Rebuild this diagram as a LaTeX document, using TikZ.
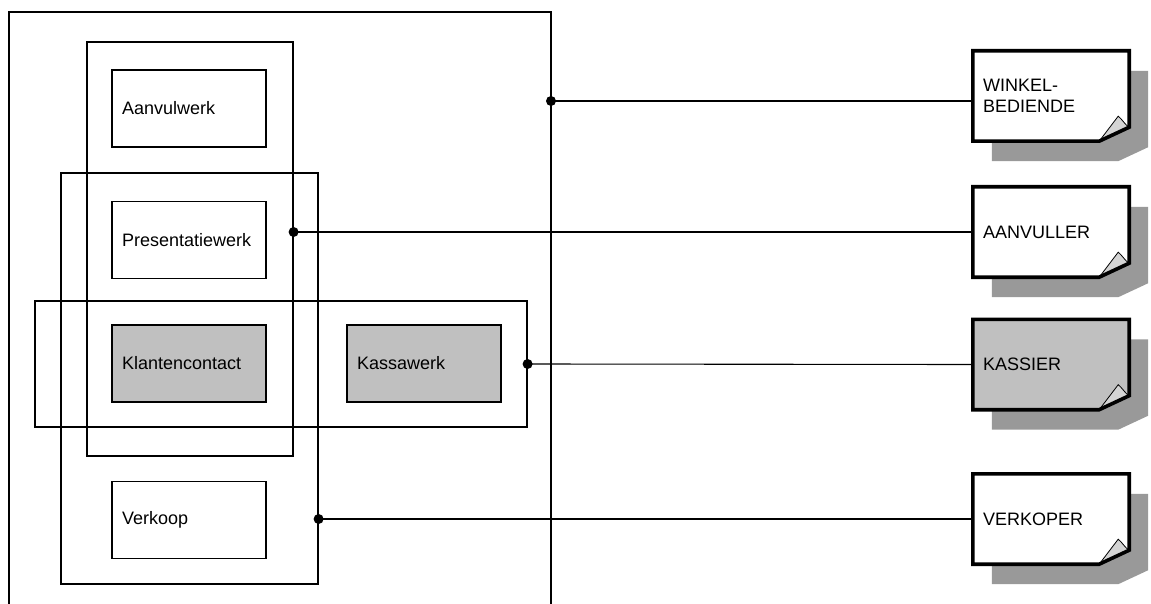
\documentclass[tikz,border=0pt]{standalone}
\usepackage{fontspec}
\setmainfont{Liberation Sans}
\usepackage{xcolor}
\definecolor{cLine}{HTML}{000000}
\definecolor{cTask}{HTML}{C0C0C0}
\definecolor{cShadow}{HTML}{999999}
\definecolor{cFold}{HTML}{D4D4D4}
\usetikzlibrary{calc,backgrounds}
\tikzset{
  node-group/.style={draw=cLine,line width=1.2pt,inner sep=0pt},
  node-task/.style={draw=cLine,line width=1.2pt,fill=white,
    minimum width=154pt,minimum height=77pt,text width=134pt,
    inner xsep=10pt,inner ysep=0pt,align=left},
  node-task-shared/.style={fill=cTask},
  node-doc/.style={minimum width=156pt,minimum height=90pt,text width=136pt,
    inner xsep=10pt,inner ysep=0pt,align=left},
  doc-border/.style={draw=cLine,line width=3.6pt,line join=miter},
  link/.style={draw=cLine,line width=1.1pt},
}
% document outline with folded corner, drawn round a named node
\newcommand{\docoutline}[1]{(#1.north west) -- (#1.north east)
  -- ($(#1.south east)+(0,14)$) -- ($(#1.south east)+(-30,0)$)
  -- (#1.south west) -- cycle}
\newcommand{\docbody}[2]{%
  \begin{scope}[on background layer]
    \fill[cShadow,transform canvas={shift={(19pt,-20pt)}}] \docoutline{#1};
    \fill[#2] \docoutline{#1};
    \filldraw[fill=cFold,draw=cLine,line width=0.8pt]
      ($(#1.south east)+(-30,0)$) -- ($(#1.south east)+(-11,25)$)
      .. controls ($(#1.south east)+(-7,22)$) and ($(#1.south east)+(-4,16)$)
      .. ($(#1.south east)+(0,14)$) -- cycle;
    \path[doc-border] \docoutline{#1};
  \end{scope}}

\begin{document}
\begin{tikzpicture}[x=1pt,y=1pt,font=\fontsize{18pt}{21pt}\selectfont]
  \useasboundingbox (0,0) rectangle (1151,-604);

  % outer frame (open at the bottom)
  \draw[node-group] (9,-604) -- (9,-12) -- (551,-12) -- (551,-604);
  \coordinate (pWinkel) at (551,-101);

  % groups
  \node[node-group,minimum width=206pt,minimum height=414pt] (gA) at (190,-249) {};
  \node[node-group,minimum width=257pt,minimum height=411pt] (gP) at (189.5,-378.5) {};
  \node[node-group,minimum width=492pt,minimum height=126pt] (gK) at (281,-364) {};

  % tasks
  \node[node-task] (tAanvul) at (189,-108.5) {Aanvulwerk};
  \node[node-task] (tPresent) at (189,-240) {Presentatiewerk};
  \node[node-task,node-task-shared] (tKlant) at (189,-363.5) {Klantencontact};
  \node[node-task,node-task-shared] (tKassa) at (424,-363.5) {Kassawerk};
  \node[node-task] (tVerkoop) at (189,-520) {Verkoop};

  % roles
  \node[node-doc] (dWinkel) at (1051,-96) {WINKEL-\\BEDIENDE};
  \node[node-doc] (dAanv) at (1051,-232) {AANVULLER};
  \node[node-doc] (dKass) at (1051,-364.5) {KASSIER};
  \node[node-doc] (dVerk) at (1051,-519) {VERKOPER};
  \docbody{dWinkel}{white}
  \docbody{dAanv}{white}
  \docbody{dKass}{cTask}
  \docbody{dVerk}{white}

  % links
  \draw[link] (pWinkel) -- (pWinkel -| dWinkel.west);
  \draw[link] (dAanv.west -| gA.east) -- (dAanv.west);
  \draw[link] (gK.east) -- (dKass.west);
  \draw[link] (dVerk.west -| gP.east) -- (dVerk.west);
  \fill[cLine] (pWinkel) circle (5pt);
  \fill[cLine] (dAanv.west -| gA.east) circle (5pt);
  \fill[cLine] (gK.east) circle (5pt);
  \fill[cLine] (dVerk.west -| gP.east) circle (5pt);
\end{tikzpicture}
\end{document}
